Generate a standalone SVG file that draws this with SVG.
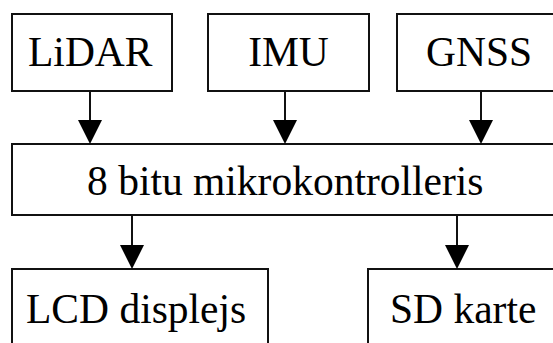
<svg xmlns="http://www.w3.org/2000/svg" width="553" height="343" viewBox="0 0 553 343">
<style>
.box{fill:#fff;stroke:#111;stroke-width:2}
.t{font-family:"Liberation Serif","Times New Roman",serif;font-size:41.5px;fill:#000}
.c{stroke:#111;stroke-width:2;fill:none}
.h{fill:#000}
</style>
<rect width="553" height="343" fill="#fff"/>
<g id="lidar"><rect class="box" x="12" y="14" width="160" height="77"/><text class="t" x="28" y="66">LiDAR</text></g>
<g id="imu"><rect class="box" x="208" y="14" width="161" height="77"/><text class="t" x="288.5" y="66" text-anchor="middle">IMU</text></g>
<g id="gnss"><rect class="box" x="397" y="14" width="170" height="77"/><text class="t" x="426" y="66">GNSS</text></g>
<g id="mcu"><rect class="box" x="12" y="144" width="560" height="71"/><text class="t" x="87" y="195">8 bitu mikrokontrolleris</text></g>
<g id="lcd"><rect class="box" x="12" y="269" width="256" height="90"/><text class="t" x="26" y="323">LCD displejs</text></g>
<g id="sd"><rect class="box" x="368" y="269" width="200" height="90"/><text class="t" x="390" y="323">SD karte</text></g>
<g id="connectors">
<line class="c" x1="90" y1="91" x2="90" y2="122"/><polygon class="h" points="78,120 102,120 90,144"/>
<line class="c" x1="285" y1="91" x2="285" y2="122"/><polygon class="h" points="273,120 297,120 285,144"/>
<line class="c" x1="481" y1="91" x2="481" y2="122"/><polygon class="h" points="469,120 493,120 481,144"/>
<line class="c" x1="132" y1="215" x2="132" y2="247"/><polygon class="h" points="120,245 144,245 132,269"/>
<line class="c" x1="457" y1="215" x2="457" y2="247"/><polygon class="h" points="445,245 469,245 457,269"/>
</g>
</svg>
